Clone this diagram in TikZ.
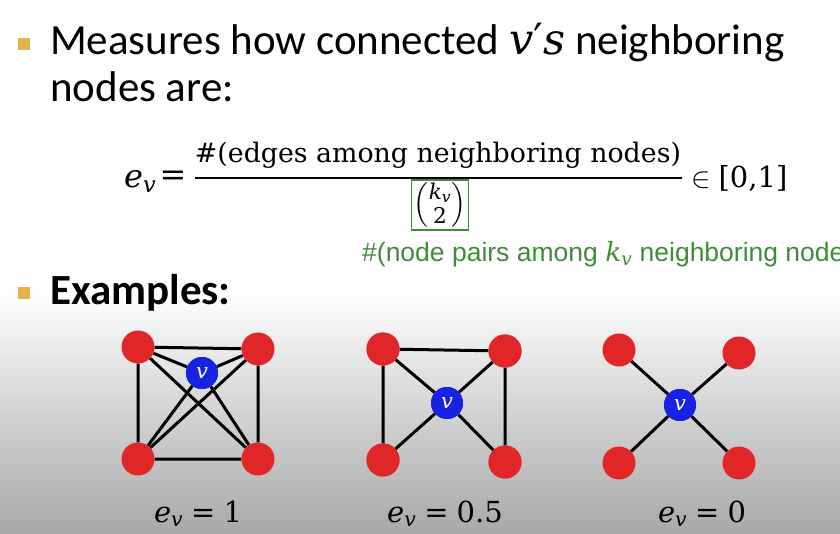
\RequirePackage{fix-cm}
\documentclass[tikz,border=0pt]{standalone}
\usepackage{amsmath}
\usepackage{fontspec}
\setsansfont{Carlito}
\newfontfamily\arialfont{Liberation Sans}
\newfontfamily\serifmath{DejaVu Serif}
% italic letter in the serif face, usable inside math (scales in sub/superscripts)
\newcommand{\mv}[1]{\text{\serifmath\itshape #1}}
\newcommand{\mt}[1]{\text{\serifmath #1}}
\definecolor{bulletorange}{RGB}{232,176,74}
\definecolor{nodered}{RGB}{224,38,38}
\definecolor{nodeblue}{RGB}{24,34,226}
\definecolor{formgreen}{RGB}{64,140,56}
\definecolor{floorgray}{RGB}{168,168,168}
\tikzset{
  redv/.style={circle, fill=nodered, minimum size=33pt, inner sep=0pt},
  bluev/.style={circle, fill=nodeblue, minimum size=32pt, inner sep=0pt, text=white,
    font=\serifmath\itshape\fontsize{21}{21}\selectfont},
  edge/.style={line width=3pt, black},
  bullet/.style={fill=bulletorange, minimum size=12pt, inner sep=0pt},
  slidetext/.style={font=\sffamily\fontsize{43}{43}\selectfont, inner sep=0pt, anchor=base west},
  caption/.style={font=\fontsize{29}{29}\selectfont, inner sep=0pt, anchor=base},
}
\begin{document}
\begin{tikzpicture}[x=1pt,y=-1pt]
\useasboundingbox (0,0) rectangle (840,534);
\clip (0,0) rectangle (840,534);
% background: white slide fading to grey at the bottom
\fill[white] (0,0) rectangle (840,534);
\shade[top color=white, bottom color=floorgray] (0,290) rectangle (840,534);

% bullet points
\node[bullet] (b1) at (24,44) {};
\node[slidetext] (t1) at (50,55) {Measures how connected {\serifmath\itshape v}{\serifmath\char"2032}{\serifmath\itshape s} neighboring};
\node[slidetext] (t2) at (50,102) {nodes are:};

% formula
\node[font=\fontsize{32}{32}\selectfont, inner sep=0pt, anchor=base west] (ev) at (124,188) {$\mv{e}_{\mv{v}}$};
\node[font=\serifmath\fontsize{32}{32}\selectfont, inner sep=0pt] (eq) at (173,178) {=};
\node[font=\serifmath\fontsize{26.8}{26.8}\selectfont, inner sep=0pt, anchor=base] (num) at (438,163) {\#(edges among neighboring nodes)};
\coordinate (barl) at (195,178);
\coordinate (barr) at (682,178);
\draw[line width=1.6pt] (barl) -- (barr);
\node[draw=formgreen, line width=1.2pt, inner sep=0pt, minimum width=57pt, minimum height=50pt,
  font=\fontsize{31}{31}\selectfont] (den) at (440,205) {$\binom{\mv{k}_{\mv{v}}}{\mt{2}}$};
\node[font=\fontsize{29}{29}\selectfont, inner sep=0pt, anchor=west] (in) at (691,178) {$\in\mt{[0,1]}$};
\node[font=\arialfont\fontsize{26.5}{26.5}\selectfont, text=formgreen, inner sep=0pt, anchor=base west]
  (pairs) at (362,262) {\#(node pairs among $\mv{k}_{\mv{v}}$ neighboring nodes)};

\node[bullet] (b2) at (24,293) {};
\node[slidetext, font=\sffamily\bfseries\fontsize{43}{43}\selectfont] (t3) at (50,305) {Examples:};

% example 1: all neighbours linked
\node[redv] (a1) at (138,347) {};
\node[redv] (a2) at (258,349) {};
\node[redv] (a3) at (138,459) {};
\node[redv] (a4) at (258,459) {};
\node[bluev] (av) at (202,373) {v};
\draw[edge] (a1) -- (a2) -- (a4) -- (a3) -- (a1);
\draw[edge] (a1) -- (a4) (a2) -- (a3);
\foreach \n in {a1,a2,a3,a4} \draw[edge] (av) -- (\n);
\node[bluev] at (av) {v};
\node[caption] (ca) at (198,522) {$\mv{e}_{\mv{v}}\mathrel{\mt{=}}\mt{1}$};

% example 2: half of the pairs linked
\node[redv] (b1n) at (383,349) {};
\node[redv] (b2n) at (505,351) {};
\node[redv] (b3n) at (383,460) {};
\node[redv] (b4n) at (505,462) {};
\node[bluev] (bv) at (447,403) {v};
\draw[edge] (b3n) -- (b1n) -- (b2n) -- (b4n);
\foreach \n in {b1n,b2n,b3n,b4n} \draw[edge] (bv) -- (\n);
\foreach \n in {b1n,b2n,b3n,b4n} \node[redv] at (\n) {};
\node[bluev] at (bv) {v};
\node[caption] (cb) at (445,522) {$\mv{e}_{\mv{v}}\mathrel{\mt{=}}\mt{0.5}$};

% example 3: star, no neighbour links
\node[redv] (c1) at (619,350) {};
\node[redv] (c2) at (739,353) {};
\node[redv] (c3) at (619,463) {};
\node[redv] (c4) at (739,463) {};
\node[bluev] (cv) at (680,405) {v};
\foreach \n in {c1,c2,c3,c4} \draw[edge] (cv) -- (\n);
\node[bluev] at (cv) {v};
\node[caption] (cc) at (702,522) {$\mv{e}_{\mv{v}}\mathrel{\mt{=}}\mt{0}$};
\end{tikzpicture}
\end{document}
